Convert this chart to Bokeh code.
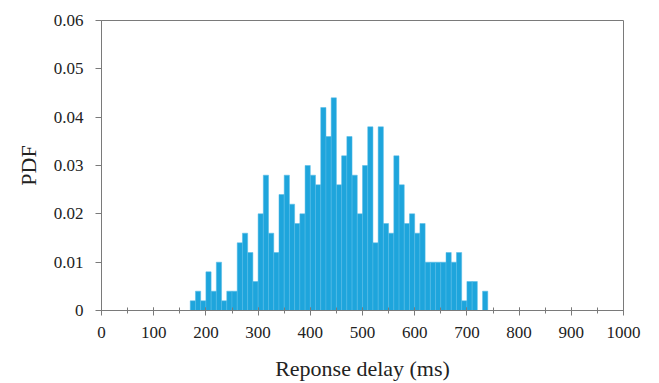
from bokeh.plotting import figure
from bokeh.embed import file_html
from bokeh.resources import INLINE
from bokeh.models import Range1d, FixedTicker, ColumnDataSource

# Histogram bins (left edges, ms) and PDF values
bin_left = [170, 180, 190, 200, 210, 220, 230, 240, 250, 260,
            270, 280, 290, 300, 310, 320, 330, 340, 350, 360,
            370, 380, 390, 400, 410, 420, 430, 440, 450, 460,
            470, 480, 490, 500, 510, 520, 530, 540, 550, 560,
            570, 580, 590, 600, 610, 620, 630, 640, 650, 660,
            670, 680, 690, 700, 710, 720, 730]
pdf = [0.002, 0.004, 0.002, 0.008, 0.004, 0.010, 0.002, 0.004, 0.004, 0.014,
       0.016, 0.012, 0.006, 0.020, 0.028, 0.016, 0.012, 0.024, 0.028, 0.022,
       0.018, 0.020, 0.030, 0.028, 0.026, 0.042, 0.036, 0.044, 0.026, 0.032,
       0.036, 0.028, 0.020, 0.030, 0.038, 0.014, 0.038, 0.018, 0.016, 0.032,
       0.026, 0.018, 0.020, 0.016, 0.018, 0.010, 0.010, 0.010, 0.010, 0.012,
       0.010, 0.012, 0.002, 0.006, 0.006, 0.000, 0.004]
bin_width = 10

x_ticks = [0, 100, 200, 300, 400, 500, 600, 700, 800, 900, 1000]
y_ticks = [0, 0.01, 0.02, 0.03, 0.04, 0.05, 0.06]
y_labels = ["0", "0.01", "0.02", "0.03", "0.04", "0.05", "0.06"]

centers = [b + bin_width / 2 for b in bin_left]
src = ColumnDataSource(dict(x=centers, top=pdf))

FONT = "Liberation Serif"
AX = "#7a7a7a"

p = figure(width=659, height=383, output_backend="svg", toolbar_location=None,
           x_range=Range1d(0, 1000), y_range=Range1d(0, 0.06),
           min_border_left=101, min_border_right=36, min_border_top=20,
           min_border_bottom=73)
p.vbar(x="x", top="top", width=bin_width, source=src, bottom=0,
       fill_color="#1ea5dc", line_color="#55bbe6", line_width=0.5)

p.xgrid.visible = False
p.ygrid.visible = False
p.outline_line_color = AX
p.outline_line_width = 1

xa = p.xaxis[0]
xa.ticker = FixedTicker(ticks=x_ticks, minor_ticks=list(range(0, 1001, 50)))
xa.axis_label = "Reponse delay (ms)"
xa.major_tick_in = 3
xa.major_tick_out = 5
xa.minor_tick_in = 3
xa.minor_tick_out = 3
xa.major_label_standoff = 11
xa.axis_label_standoff = 15

ya = p.yaxis[0]
ya.ticker = FixedTicker(ticks=y_ticks)
ya.major_label_overrides = {t: l for t, l in zip(y_ticks, y_labels)}
ya.axis_label = "PDF"
ya.major_tick_in = 0
ya.major_tick_out = 6
ya.minor_tick_in = 0
ya.minor_tick_out = 0
ya.major_label_standoff = 12
ya.axis_label_standoff = 10

for ax in (xa, ya):
    ax.axis_line_color = AX
    ax.major_tick_line_color = AX
    ax.minor_tick_line_color = AX
    ax.major_label_text_font = FONT
    ax.major_label_text_font_size = "17px"
    ax.major_label_text_color = "#222222"
    ax.axis_label_text_font = FONT
    ax.axis_label_text_font_size = "22px"
    ax.axis_label_text_font_style = "normal"
    ax.axis_label_text_color = "#222222"

open("out.html", "w").write(file_html(p, INLINE))
